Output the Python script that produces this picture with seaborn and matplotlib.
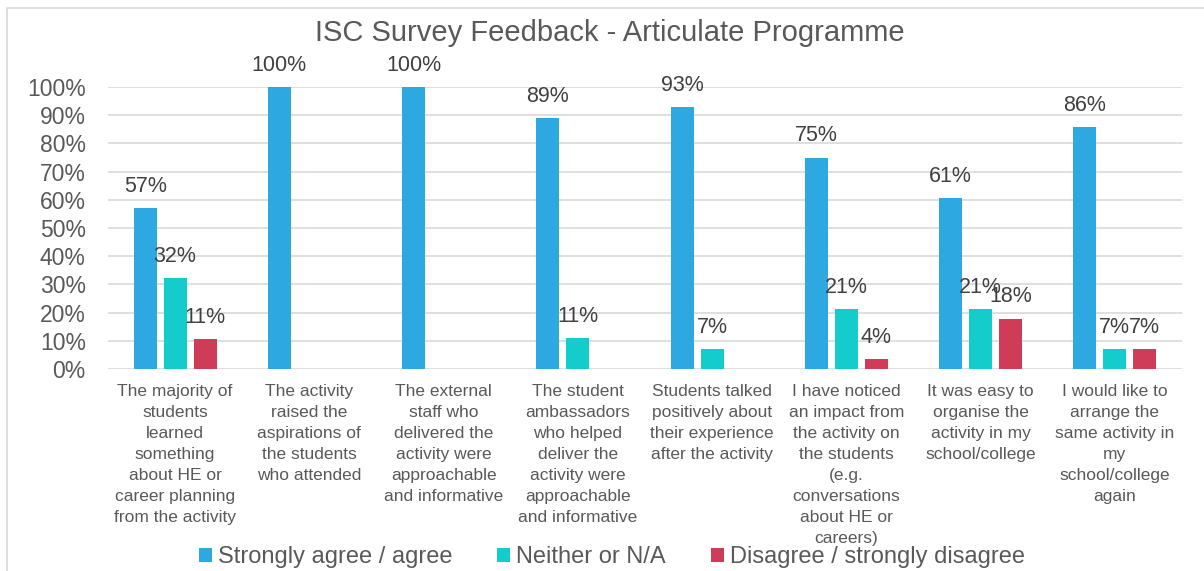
import pandas as pd
import seaborn as sns
import matplotlib.pyplot as plt
from matplotlib.patches import Rectangle

statements = [
    "The majority of\nstudents\nlearned\nsomething\nabout HE or\ncareer planning\nfrom the activity",
    "The activity\nraised the\naspirations of\nthe students\nwho attended",
    "The external\nstaff who\ndelivered the\nactivity were\napproachable\nand informative",
    "The student\nambassadors\nwho helped\ndeliver the\nactivity were\napproachable\nand informative",
    "Students talked\npositively about\ntheir experience\nafter the activity",
    "I have noticed\nan impact from\nthe activity on\nthe students\n(e.g.\nconversations\nabout HE or\ncareers)",
    "It was easy to\norganise the\nactivity in my\nschool/college",
    "I would like to\narrange the\nsame activity in\nmy\nschool/college\nagain",
]
responses = ["Strongly agree / agree", "Neither or N/A", "Disagree / strongly disagree"]
agree = [57.1, 100, 100, 88.9, 92.9, 75.0, 60.7, 85.7]
neither = [32.1, 0, 0, 11.1, 7.1, 21.4, 21.4, 7.1]
disagree = [10.7, 0, 0, 0, 0, 3.6, 17.9, 7.1]
colors = ["#2EA8E0", "#14CCCC", "#CF3C58"]

rows = []
for resp, vals in zip(responses, [agree, neither, disagree]):
    for s, v in zip(statements, vals):
        rows.append({"statement": s, "response": resp, "value": v})
df = pd.DataFrame(rows)

sns.set_theme(style="white")
plt.rcParams['font.family'] = ['Liberation Sans', 'DejaVu Sans']
grey = "#595959"

fig = plt.figure(figsize=(12.04, 5.71), dpi=100)
W, H = 1204, 571
ax = fig.add_axes([108 / W, 1 - 369 / H, (1182 - 108) / W, (369 - 87) / H])

sns.barplot(data=df, x="statement", y="value", hue="response", order=statements,
            hue_order=responses, palette=colors, width=0.67, gap=0.235,
            saturation=1, ax=ax, edgecolor="none")

for cont in ax.containers:
    labels = [f"{round(b.get_height())}%" if b.get_height() > 0 else "" for b in cont]
    ax.bar_label(cont, labels=labels, padding=8, fontsize=15.5, color="#404040")

ax.set_ylim(0, 100)
ax.set_xlim(-0.5, len(statements) - 0.5)
ax.set_yticks(range(0, 101, 10))
ax.set_yticklabels([f"{t}%" for t in range(0, 101, 10)])
ax.yaxis.grid(True, color="#d9d9d9", linewidth=1.2)
ax.set_axisbelow(True)
for sp in ax.spines.values():
    sp.set_visible(False)
ax.tick_params(axis="y", length=0, pad=16, labelsize=16.5, labelcolor=grey)
ax.tick_params(axis="x", length=0, pad=11, labelsize=12.5, labelcolor=grey)
for lbl in ax.get_xticklabels():
    lbl.set_linespacing(1.5)
ax.set_xlabel("")
ax.set_ylabel("")

handles, labels = ax.get_legend_handles_labels()
ax.get_legend().remove()
fig.legend(handles, labels, loc="center", bbox_to_anchor=(612 / W, 1 - 557 / H),
           ncol=3, frameon=False, fontsize=17, handlelength=0.55, handleheight=0.55,
           handletextpad=0.25, columnspacing=1.9, labelcolor=grey, borderpad=0)

fig.text(610 / W, 1 - 33 / H, "ISC Survey Feedback - Articulate Programme",
         ha="center", va="center", fontsize=21, color=grey)

fig.patches.append(Rectangle((7 / W, -0.1), 1.2, 1.1 - 8 / H, transform=fig.transFigure,
                             fill=False, edgecolor="#d9d9d9", linewidth=1.2, clip_on=False))

fig.savefig("out.png", dpi=100)
